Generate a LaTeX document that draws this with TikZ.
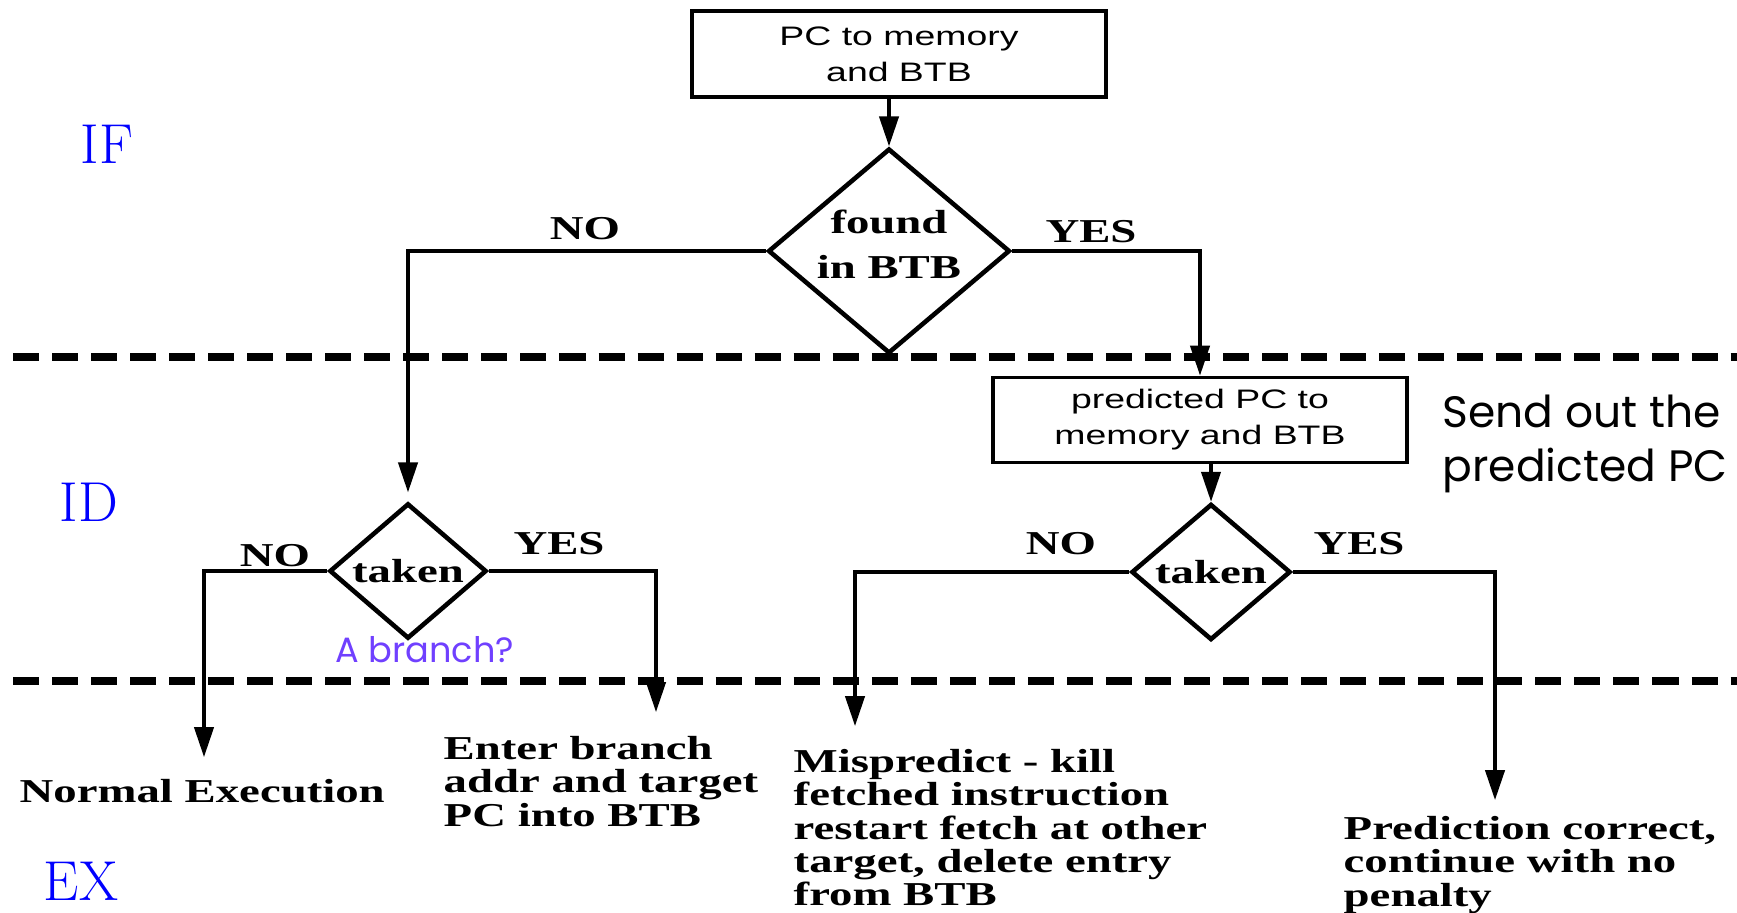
\documentclass[tikz,border=0pt]{standalone}
\usepackage{fontspec}
\usetikzlibrary{shapes.geometric, arrows.meta}
\newfontfamily\flowfont[FakeStretch=1.4]{Liberation Serif}
\newfontfamily\boxfont[FakeStretch=1.4]{Liberation Sans}
\newfontfamily\notefont{Poppins}
\definecolor{stageblue}{RGB}{0,0,255}
\definecolor{notepurple}{RGB}{112,64,255}

\begin{document}
\begin{tikzpicture}[x=0.01cm, y=-0.01cm, >={Triangle[length=8.5pt,width=5.5pt]},
  flowbox/.style={draw, line width=1.1pt, inner sep=0pt, align=center,
    font=\boxfont\fontsize{7.6}{10.2}\selectfont},
  decision/.style={diamond, draw, line width=1.3pt, inner sep=0pt, align=center,
    font=\flowfont\bfseries\fontsize{9.5}{12.8}\selectfont},
  flowline/.style={line width=0.9pt},
  lbl/.style={inner sep=0pt, font=\flowfont\bfseries\fontsize{9.5}{9.4}\selectfont},
  outcome/.style={lbl, anchor=north west, align=left},
  stage/.style={inner sep=0pt, text=stageblue, font=\fontsize{16}{19}\selectfont},
  stagesep/.style={line width=2pt, dash pattern=on 7.4pt off 3.7pt},
  note/.style={inner sep=0pt, font=\notefont\fontsize{12.5}{15.4}\selectfont}]
  \useasboundingbox (0,0) rectangle (1737,912);
  % pipeline stage borders and names
  \draw[stagesep] (13,357) -- (1737,357);
  \draw[stagesep] (13,681) -- (1737,681);
  \node[stage] (ifstage) at (107,144) {IF};
  \node[stage] (idstage) at (89,502) {ID};
  \node[stage] (exstage) at (81,881) {EX};
  % IF: lookup
  \node[flowbox, minimum width=4.14cm, minimum height=0.86cm] (pcmem) at (899,54) {PC to memory\\and BTB};
  \node[decision, aspect=1.18, minimum width=2.38cm, minimum height=2.02cm, text depth=4pt] (found) at (889,251) {found\\in BTB};
  \draw[flowline,->] (pcmem.south -| found.north) -- (found.north);
  % ID: decisions
  \node[flowbox, minimum width=4.13cm, minimum height=0.85cm] (predmem) at (1200,420) {predicted PC to\\memory and BTB};
  \node[decision, minimum width=1.57cm, minimum height=1.35cm] (takenL) at (408,571) {taken};
  \node[decision, minimum width=1.59cm, minimum height=1.36cm] (takenR) at (1211,572) {taken};
  \draw[flowline,->, shorten >=2.5pt] (found.west) -| (takenL.north);
  \draw[flowline,->] (found.east) -| (predmem.north);
  \draw[flowline,->] (predmem.south -| takenR.north) -- (takenR.north);
  \node[lbl] (nofound) at (585,229) {NO};
  \node[lbl] (yesfound) at (1091,232) {YES};
  \node[lbl] (noL) at (275,556) {NO};
  \node[lbl] (yesL) at (559,544) {YES};
  \node[lbl] (noR) at (1061,544) {NO};
  \node[lbl] (yesR) at (1359,544) {YES};
  % EX: outcomes
  \coordinate (normend) at (204,757);
  \coordinate (enterend) at (656,712);
  \coordinate (missend) at (855,726);
  \coordinate (corrend) at (1495,800);
  \draw[flowline,->] (takenL.west) -| (normend);
  \draw[flowline,->] (takenL.east) -| (enterend);
  \draw[flowline,->] (takenR.west) -| (missend);
  \draw[flowline,->] (takenR.east) -| (corrend);
  \node[outcome] (normal) at (19,779) {Normal Execution};
  \node[outcome] (enter) at (443,736) {Enter branch\\addr and target\\PC into BTB};
  \node[outcome] (mispred) at (793,749) {Mispredict - kill\\fetched instruction\\restart fetch at other\\target, delete entry\\from BTB};
  \node[outcome] (correct) at (1343,816) {Prediction correct,\\continue with no\\penalty};
  % hand-written notes
  \node[note, anchor=north west, align=left] (sendnote) at (1442,394) {Send out the\\predicted PC};
  \node[note, text=notepurple, font=\notefont\fontsize{10}{12}\selectfont] (branchnote) at (425,650) {A branch?};
\end{tikzpicture}
\end{document}
